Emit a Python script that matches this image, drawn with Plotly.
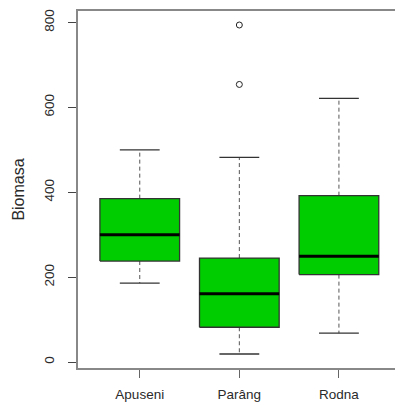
import plotly.graph_objects as go

# Biomass summary per site (five-number summaries + outliers)
sites = ["Apuseni", "Parâng", "Rodna"]
lower_whisker = [186, 19, 68]
q1 = [238, 82, 206]
median = [300, 161, 249]
q3 = [385, 245, 392]
upper_whisker = [500, 482, 621]
outlier_site = ["Parâng", "Parâng"]
outlier_value = [654, 794]

y_ticks = [0, 200, 400, 600, 800]

BOX_HALF = 0.4
CAP_HALF = 0.2
FILL = "#00CD00"
EDGE = "#333333"

pos = {s: i + 1 for i, s in enumerate(sites)}

wx, wy = [], []      # dashed whiskers
cx, cy = [], []      # whisker caps
bx, by = [], []      # box outlines
mx, my = [], []      # medians
for s, lo, a, m, b, hi in zip(sites, lower_whisker, q1, median, q3, upper_whisker):
    x = pos[s]
    wx += [x, x, None, x, x, None]
    wy += [b, hi, None, a, lo, None]
    cx += [x - CAP_HALF, x + CAP_HALF, None, x - CAP_HALF, x + CAP_HALF, None]
    cy += [hi, hi, None, lo, lo, None]
    bx += [x - BOX_HALF, x + BOX_HALF, x + BOX_HALF, x - BOX_HALF, x - BOX_HALF, None]
    by += [a, a, b, b, a, None]
    mx += [x - BOX_HALF, x + BOX_HALF, None]
    my += [m, m, None]

fig = go.Figure()
fig.add_trace(go.Scatter(x=wx, y=wy, mode="lines",
                         line=dict(color="#555555", width=1, dash="4px,3px"),
                         hoverinfo="skip"))
fig.add_trace(go.Scatter(x=cx, y=cy, mode="lines",
                         line=dict(color=EDGE, width=1.3), hoverinfo="skip"))
fig.add_trace(go.Scatter(x=bx, y=by, mode="lines", fill="toself", fillcolor=FILL,
                         line=dict(color=EDGE, width=1.3), hoverinfo="skip"))
fig.add_trace(go.Scatter(x=mx, y=my, mode="lines",
                         line=dict(color="black", width=3), hoverinfo="skip"))
fig.add_trace(go.Scatter(x=[pos[s] for s in outlier_site], y=outlier_value,
                         mode="markers",
                         marker=dict(symbol="circle-open", size=6,
                                     color="#222222", line=dict(width=1)),
                         hoverinfo="skip"))

font = dict(family="Liberation Sans, Arial, sans-serif", size=13.5, color="#2a2a2a")

fig.update_layout(
    width=395, height=405,
    margin=dict(l=78, r=0, t=11, b=37),
    paper_bgcolor="white", plot_bgcolor="white",
    showlegend=False,
    font=font,
    xaxis=dict(
        range=[0.38, 3.563],
        tickmode="array", tickvals=[pos[s] for s in sites], ticktext=sites,
        ticks="outside", ticklen=8, tickwidth=1, tickcolor="#666666",
        showline=True, linecolor="#888888", linewidth=2, mirror=True,
        showgrid=False, zeroline=False, ticklabelstandoff=5,
        fixedrange=True,
    ),
    yaxis=dict(
        range=[-14, 827],
        tickmode="array", tickvals=y_ticks, ticktext=[str(v) for v in y_ticks],
        ticks="outside", ticklen=8, tickwidth=1, tickcolor="#444444",
        tickangle=-90,
        showline=True, linecolor="#888888", linewidth=2, mirror=False,
        showgrid=False, zeroline=False, ticklabelstandoff=9,
        title=dict(text="Biomasa", standoff=13),
        fixedrange=True,
    ),
)

fig.write_html("out.html")
